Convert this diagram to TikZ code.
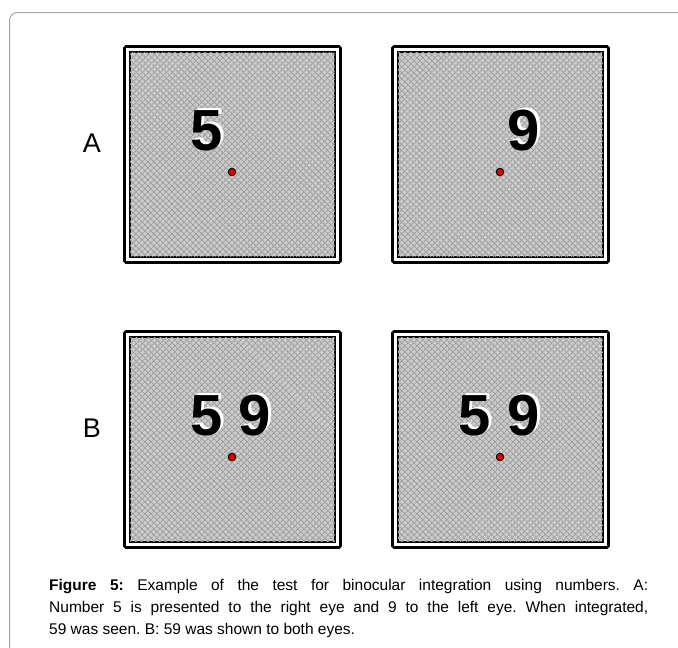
\documentclass[tikz,border=0pt]{standalone}
\usepackage{fontspec}
\setmainfont{Liberation Sans}
\usetikzlibrary{patterns.meta}

\definecolor{framegray}{RGB}{165,165,165}
\definecolor{screengray}{RGB}{204,204,204}
\definecolor{hatchgray}{RGB}{158,158,158}
\definecolor{dotred}{RGB}{230,0,0}

\tikzset{
  screen/.style={draw=black, line width=1.8pt, minimum width=205pt, minimum height=205pt,
    inner sep=0pt, fill=screengray},
  outerline/.style={draw=black, line width=2.8pt, rounded corners=1.5pt},
  hatch/.style={pattern={Lines[angle=45,distance=4pt,line width=1.1pt]}, pattern color=hatchgray},
  hatchb/.style={pattern={Lines[angle=-45,distance=4pt,line width=1.1pt]}, pattern color=hatchgray},
  fixdot/.style={circle, fill=dotred, draw=black, line width=0.9pt, inner sep=0pt, minimum size=7.5pt},
  digit/.style={font=\fontsize{58}{58}\selectfont\bfseries, inner sep=0pt, anchor=base},
  rowlabel/.style={font=\fontsize{27}{27}\selectfont, inner sep=0pt},
  captext/.style={font=\fontsize{15.5}{20}\selectfont\frenchspacing, inner sep=0pt, anchor=base west},
}

% a digit with a white copy shifted up and to the right behind it
\newcommand{\glowdigit}[1]{%
  \makebox[0pt][l]{\hspace{2.2pt}\raisebox{1.9pt}{\textcolor{white}{#1}}}#1}

% one stimulus screen: #1 name, #2 left edge, #3 top edge
\newcommand{\stimscreen}[3]{%
  \node[screen] (#1) at (#2+108.5, #3+108.5) {};
  \fill[hatch] ([shift={(1pt,-1pt)}]#1.north west) rectangle ([shift={(-1pt,1pt)}]#1.south east);
  \fill[hatchb] ([shift={(1pt,-1pt)}]#1.north west) rectangle ([shift={(-1pt,1pt)}]#1.south east);
  \draw[outerline] ([shift={(-4.6pt,4.6pt)}]#1.north west) rectangle ([shift={(4.6pt,-4.6pt)}]#1.south east);
  \node[fixdot] (#1-dot) at (#2+108, #3+126) {};
}

\begin{document}
\begin{tikzpicture}[x=1pt, y=-1pt]
  \useasboundingbox (0,0) rectangle (678,648);
  \begin{scope}
    \clip (0,0) rectangle (678,648);
    % page frame, open to the right and bottom
    \draw[framegray, line width=1pt, rounded corners=8pt] (700,12.5) -- (9.5,12.5) -- (9.5,700);
  \end{scope}

  % row labels
  \node[rowlabel] (labA) at (92,143) {A};
  \node[rowlabel] (labB) at (92,428) {B};

  % row A
  \stimscreen{sA1}{124}{46}
  \stimscreen{sA2}{392}{46}
  \node[digit] (dA1) at (207,150) {\glowdigit{5}};
  \node[digit] (dA2) at (524,150) {\glowdigit{9}};

  % row B
  \stimscreen{sB1}{124}{331}
  \stimscreen{sB2}{392}{331}
  \node[digit] (dB1a) at (207,435) {\glowdigit{5}};
  \node[digit] (dB1b) at (255,435) {\glowdigit{9}};
  \node[digit] (dB2a) at (475,435) {\glowdigit{5}};
  \node[digit] (dB2b) at (524,435) {\glowdigit{9}};

  % caption
  \node[captext] (cap1) at (49,590) {\makebox[599pt][s]{\textbf{Figure 5:} Example of the test for binocular integration using numbers. A:}};
  \node[captext] (cap2) at (49,612) {\makebox[599pt][s]{Number 5 is presented to the right eye and 9 to the left eye. When integrated,}};
  \node[captext] (cap3) at (49,634) {59 was seen. B: 59 was shown to both eyes.};
\end{tikzpicture}
\end{document}
